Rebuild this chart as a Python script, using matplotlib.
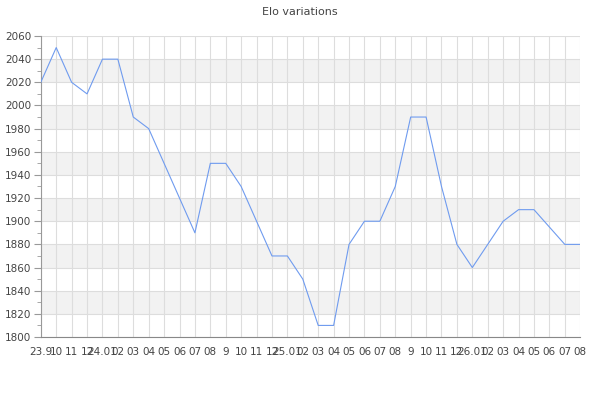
import matplotlib
matplotlib.use("Agg")
import matplotlib.pyplot as plt
from matplotlib.ticker import MultipleLocator

labels = ["23.9", "10", "11", "12",
          "24.01", "02", "03", "04", "05", "06", "07", "08", "9", "10", "11", "12",
          "25.01", "02", "03", "04", "05", "06", "07", "08", "9", "10", "11", "12",
          "26.01", "02", "03", "04", "05", "06", "07", "08"]
elo = [2020, 2050, 2020, 2010, 2040, 2040, 1990, 1980, 1950, 1920, 1890, 1950,
       1950, 1930, 1900, 1870, 1870, 1850, 1810, 1810, 1880, 1900, 1900, 1930,
       1990, 1990, 1930, 1880, 1860, 1880, 1900, 1910, 1910, 1895, 1880, 1880]
band_starts = [1820, 1860, 1900, 1940, 1980, 2020]

fig = plt.figure(figsize=(6, 4), dpi=100)
ax = fig.add_axes([0.068, 0.1575, 0.899, 0.7525])
x = list(range(len(elo)))

for b in band_starts:
    ax.axhspan(b, b + 20, color="#f2f2f2", zorder=0, lw=0)

ax.plot(x, elo, color="#6f9bef", lw=0.8, zorder=3)

ax.set_xlim(0, len(elo) - 1)
ax.set_ylim(1800, 2060)
ax.yaxis.set_major_locator(MultipleLocator(20))
ax.yaxis.set_minor_locator(MultipleLocator(10))
ax.set_xticks(x)
ax.set_xticklabels(labels)
ax.grid(True, which="major", color="#dddddd", lw=0.8, zorder=1)
ax.set_axisbelow(True)

for s in ["top", "right"]:
    ax.spines[s].set_visible(False)
ax.spines["left"].set_color("#999999")
ax.spines["bottom"].set_color("#888888")
ax.spines["left"].set_linewidth(0.8)
ax.spines["bottom"].set_linewidth(0.8)

ax.tick_params(axis="y", which="major", length=5, color="#999999",
               labelsize=7.5, labelcolor="#444444", pad=2)
ax.tick_params(axis="y", which="minor", length=3, color="#999999")
ax.tick_params(axis="x", which="major", length=0, labelsize=7.5,
               labelcolor="#444444", pad=7)

fig.text(0.5, 0.97, "Elo variations", ha="center", va="center",
         fontsize=8, color="#444444")

fig.savefig("out.png", dpi=100)
